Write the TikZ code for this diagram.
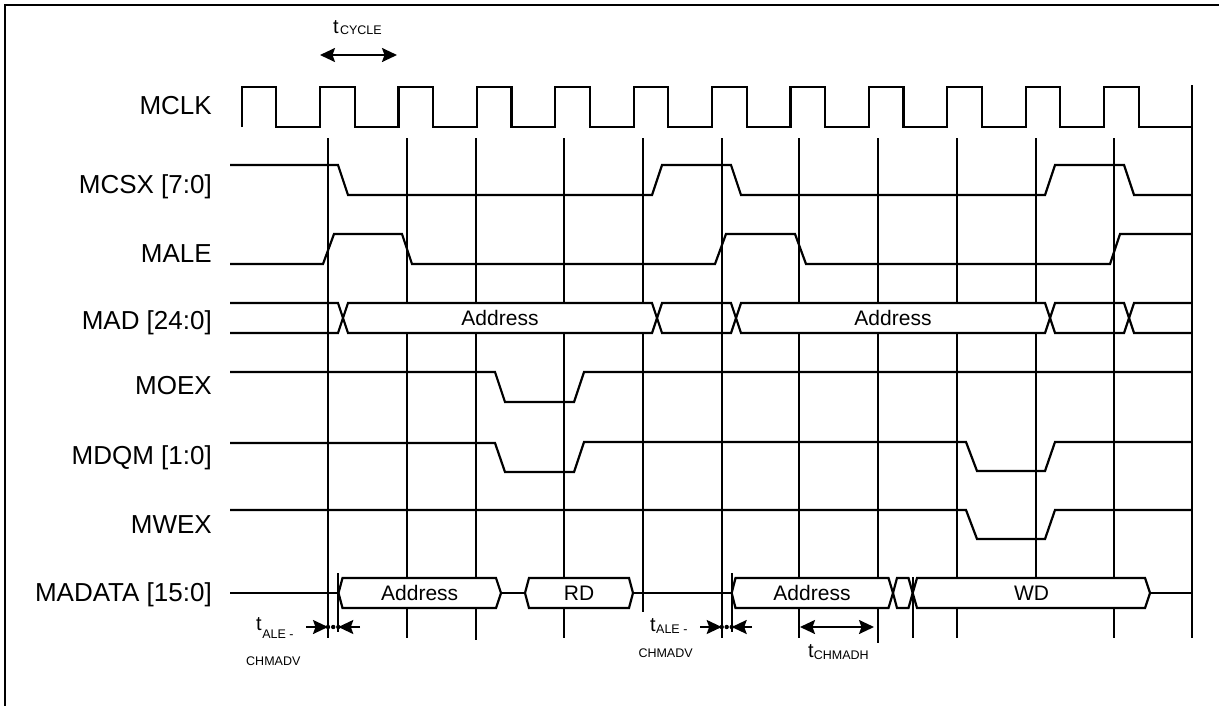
\documentclass[tikz,border=0pt]{standalone}
\usepackage{fontspec}
\setmainfont{Liberation Sans}
\usetikzlibrary{arrows.meta}
\begin{document}
\begin{tikzpicture}[x=1pt,y=-1pt,
  sig/.style={line width=2.2pt, line join=miter},
  refline/.style={line width=2pt},
  busfill/.style={line width=2.2pt, fill=white, line join=miter},
  busopen/.style={line width=2.2pt, line join=miter},
  lbl/.style={anchor=base east, inner sep=0pt, font=\fontsize{26}{26}\selectfont},
  bustxt/.style={anchor=base, inner sep=0pt, font=\fontsize{21}{21}\selectfont},
  tlbl/.style={anchor=base west, inner sep=0pt, font=\fontsize{20}{20}\selectfont},
  tsub/.style={anchor=base west, inner sep=0pt, font=\fontsize{12.5}{12.5}\selectfont},
  tip/.tip={Stealth[length=15pt,width=14pt,inset=2.5pt]},
  dblarrow/.style={line width=2pt, tip-tip},
  onearrow/.style={line width=2pt, -tip}
]
\useasboundingbox (0,0) rectangle (1219,705);
% frame
\draw[line width=2pt] (5,712) -- (5,5) -- (1226,5);

% reference vertical lines
\foreach \x/\yb in {328/638, 406.7/638, 476/640, 564/638, 643/612, 721.7/638, 799/638, 878/643, 956.7/638, 1036/590, 1113.5/638}
  \draw[refline] (\x,138) -- (\x,\yb);
\draw[refline] (1192,85) -- (1192,638);

% labels
\node[lbl] (lmclk) at (212,114) {MCLK};
\node[lbl] (lmcsx) at (212,193) {MCSX [7:0]};
\node[lbl] (lmale) at (212,262) {MALE};
\node[lbl] (lmad) at (212,329) {MAD [24:0]};
\node[lbl] (lmoex) at (212,394) {MOEX};
\node[lbl] (lmdqm) at (212,464) {MDQM [1:0]};
\node[lbl] (lmwex) at (212,533) {MWEX};
\node[lbl] (lmadata) at (212,601) {MADATA [15:0]};

% MCLK
\draw[sig] (241.7,127) \foreach \i in {0,...,11} {
   -- ({241.7+78.4*\i},127) -- ({241.7+78.4*\i},87) -- ({276.2+78.4*\i},87) -- ({276.2+78.4*\i},127) } -- (1192,127);

% MCSX
\draw[sig] (230,165) -- (338,165) -- (348,195) -- (652,195) -- (662,165) -- (731,165) -- (741,195) -- (1045,195) -- (1055,165) -- (1124,165) -- (1134,195) -- (1192,195);

% MALE
\draw[sig] (230,264) -- (323,264) -- (334,234) -- (402,234) -- (412,264) -- (715,264) -- (726,234) -- (795,234) -- (806,264) -- (1110,264) -- (1120,234) -- (1192,234);

% MAD bus
\draw[busopen] (230,303) -- (338,303) -- (343,318) -- (338,333) -- (230,333);
\draw[busfill] (343,318) -- (348,303) -- (652,303) -- (657,318) -- (652,333) -- (348,333) -- cycle;
\draw[busopen] (657,318) -- (662,303) -- (731,303) -- (736,318) -- (731,333) -- (662,333) -- cycle;
\draw[busfill] (736,318) -- (741,303) -- (1045,303) -- (1050,318) -- (1045,333) -- (741,333) -- cycle;
\draw[busopen] (1050,318) -- (1055,303) -- (1124,303) -- (1129,318) -- (1124,333) -- (1055,333) -- cycle;
\draw[busopen] (1192,303) -- (1134,303) -- (1129,318) -- (1134,333) -- (1192,333);
\node[bustxt] (madaddr1) at (500,325.5) {Address};
\node[bustxt] (madaddr2) at (893,325.5) {Address};

% MOEX
\draw[sig] (230,372) -- (495,372) -- (505,402) -- (574,402) -- (584,372) -- (1192,372);

% MDQM
\draw[sig] (230,443) -- (495,443) -- (505,472) -- (574,472) -- (584,442) -- (966,442) -- (977,471) -- (1045,471) -- (1055,442) -- (1192,442);

% MWEX
\draw[sig] (230,510) -- (966,510) -- (977,539) -- (1045,539) -- (1055,510) -- (1192,510);

% MADATA bus
\draw[sig] (230,593) -- (338.5,593);
\draw[busfill] (338.5,593) -- (342.5,578) -- (496,578) -- (501,593) -- (496,608) -- (342.5,608) -- cycle;
\draw[sig] (501,593) -- (525,593);
\draw[busfill] (525,593) -- (529,578) -- (629,578) -- (633,593) -- (629,608) -- (529,608) -- cycle;
\draw[sig] (633,593) -- (731.7,593);
\draw[busfill] (731.7,593) -- (735.5,578) -- (888.5,578) -- (893,593) -- (888.5,608) -- (735.5,608) -- cycle;
\draw[busopen] (893,593) -- (897,578) -- (908.5,578) -- (912.7,593) -- (908.5,608) -- (897,608) -- cycle;
\draw[busfill] (912.7,593) -- (917,578) -- (1145,578) -- (1150,593) -- (1145,608) -- (917,608) -- cycle;
\draw[sig] (1150,593) -- (1192,593);
\node[bustxt] (dataddr1) at (419.7,600.5) {Address};
\node[bustxt] (datrd) at (579,600.5) {RD};
\node[bustxt] (dataddr2) at (812,600.5) {Address};
\node[bustxt] (datwd) at (1031.5,600.5) {WD};

% marker lines
\draw[refline] (338.3,573) -- (338.3,632);
\draw[refline] (731.7,573) -- (731.7,632);
\draw[refline] (912.7,577) -- (912.7,638);

% tCYCLE
\coordinate (cyA) at (320,55);
\coordinate (cyB) at (397,55);
\draw[dblarrow] (cyA) -- (cyB);
\node[tlbl] (tcyc) at (333,33) {t};
\node[tsub] (tcycs) at (339.8,34) {CYCLE};

% tALE-CHMADV (1)
\coordinate (a1L) at (306,627);
\coordinate (a1R) at (360,627);
\draw[onearrow] (a1L) -- (328,627);
\draw[onearrow] (a1R) -- (338.3,627);
\foreach \x in {328,333.2,338.3} \fill (\x,627) circle[radius=2.2pt];
\node[tlbl] (tale1) at (256,630) {t};
\node[tsub] (tale1s) at (262.2,638) {ALE -};
\node[tsub] (tale1c) at (246,665) {CHMADV};

% tALE-CHMADV (2)
\coordinate (a2L) at (700,627);
\coordinate (a2R) at (752,627);
\draw[onearrow] (a2L) -- (721.7,627);
\draw[onearrow] (a2R) -- (731.7,627);
\foreach \x in {721.7,726.7,731.7} \fill (\x,627) circle[radius=2.2pt];
\node[tlbl] (tale2) at (650,631) {t};
\node[tsub] (tale2s) at (656,633) {ALE -};
\node[tsub] (tale2c) at (638.3,657) {CHMADV};

% tCHMADH
\coordinate (hA) at (800,627);
\coordinate (hB) at (874,627);
\draw[dblarrow] (hA) -- (hB);
\node[tlbl] (tchh) at (808,657) {t};
\node[tsub] (tchhs) at (813.6,659) {CHMADH};
\end{tikzpicture}
\end{document}
